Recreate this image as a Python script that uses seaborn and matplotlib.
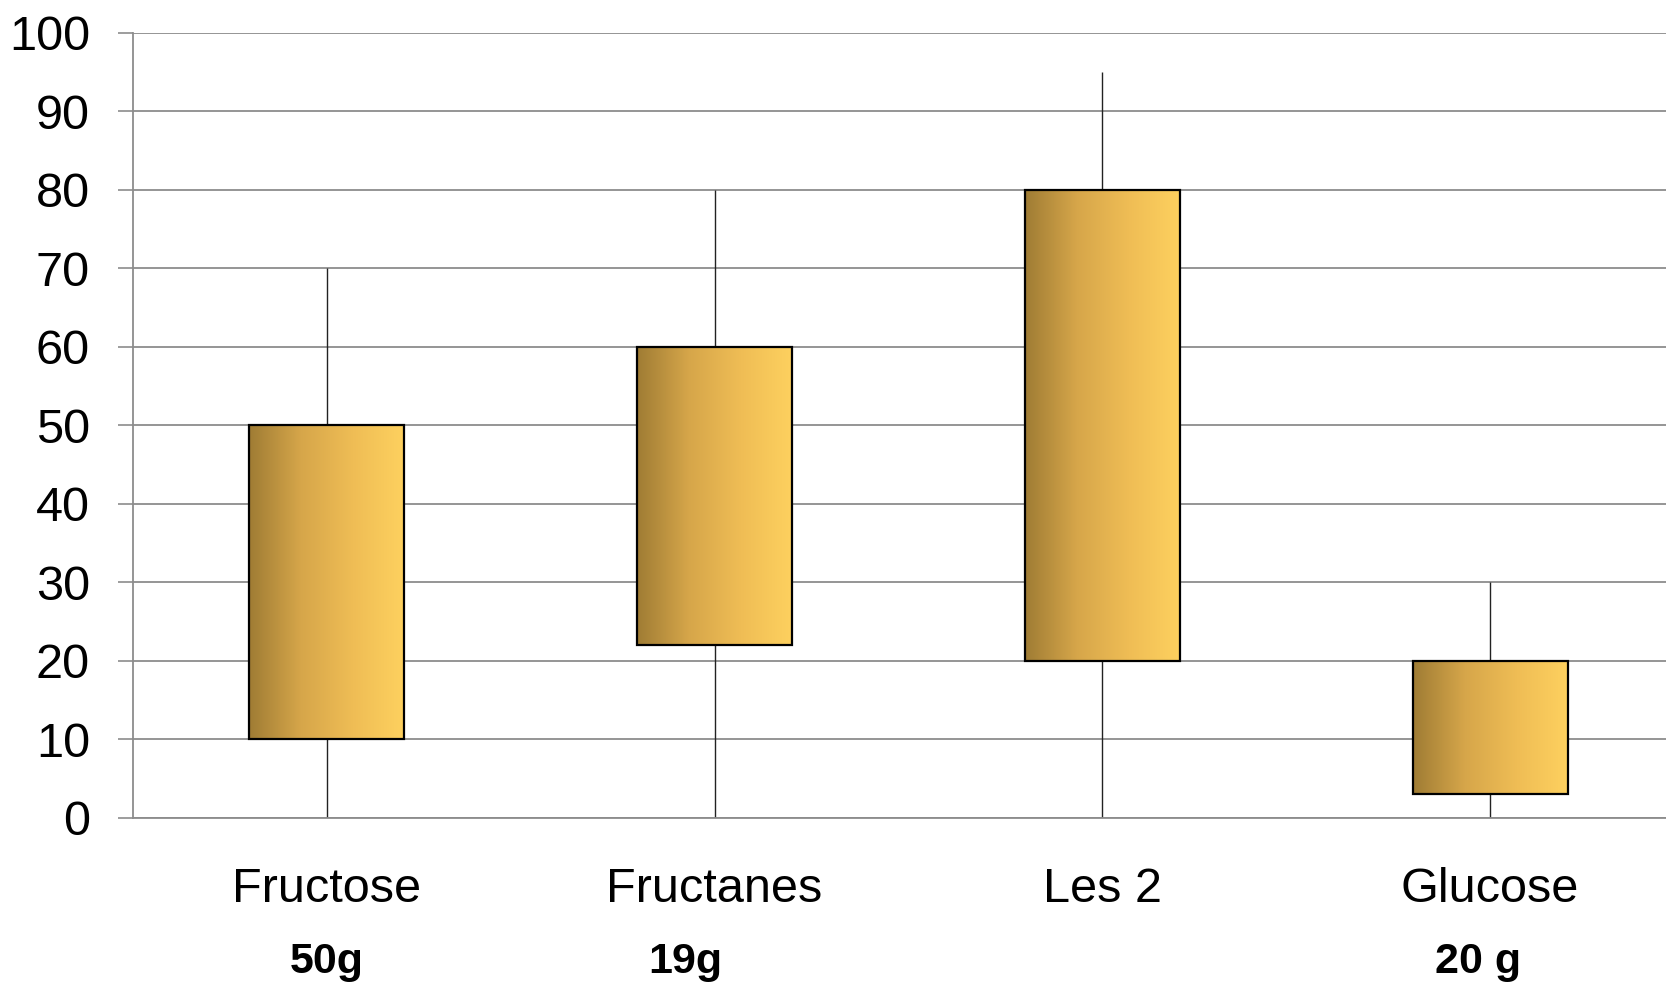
import numpy as np
import pandas as pd
import matplotlib
matplotlib.use("Agg")
import matplotlib.pyplot as plt
from matplotlib.colors import LinearSegmentedColormap
import seaborn as sns

# Data: range (whiskers) and interquartile box for each sugar
categories = ["Fructose", "Fructanes", "Les 2", "Glucose"]
doses = ["50g", "19g", "", "20 g"]
box_low = [10, 22, 20, 3]
box_high = [50, 60, 80, 20]
whisk_low = [0, 0, 0, 0]
whisk_high = [70, 80, 95, 30]
y_ticks = list(range(0, 101, 10))

sns.set_theme(style="white")
plt.rcParams["font.family"] = ["Liberation Sans", "DejaVu Sans"]
plt.rcParams["text.color"] = "black"
plt.rcParams["xtick.labelcolor"] = "black"
plt.rcParams["ytick.labelcolor"] = "black"

fig = plt.figure(figsize=(16.66, 9.84), dpi=100)
ax = fig.add_axes([0.0798, 0.1687, 0.931, 0.7978])

df = pd.DataFrame({
    "cat": categories,
    "height": np.array(box_high) - np.array(box_low),
})

# Whiskers drawn first so the boxes sit on top
ax.vlines(np.arange(len(categories)), whisk_low, whisk_high,
          color="#222222", lw=1.0, zorder=2)

sns.barplot(data=df, x="cat", y="height", bottom=box_low, width=0.4,
            color="#e0b050", edgecolor="black", linewidth=1.6,
            ax=ax, zorder=3)

# Horizontal gradient fill for each box
grad_cmap = LinearSegmentedColormap.from_list(
    "gold", ["#9f7c34", "#d6a64a", "#efbd55", "#fed15f"])
grad = np.linspace(0, 1, 256).reshape(1, -1)
for patch in ax.patches:
    x0, y0 = patch.get_x(), patch.get_y()
    w, h = patch.get_width(), patch.get_height()
    im = ax.imshow(grad, cmap=grad_cmap, aspect="auto",
                   extent=[x0, x0 + w, y0, y0 + h], zorder=3.5,
                   interpolation="bilinear")
    im.set_clip_path(patch)
    patch.set_facecolor("none")
    patch.set_zorder(4)

ax.set_xlim(-0.5, len(categories) - 0.5)
ax.set_ylim(0, 100)
ax.set_yticks(y_ticks)
ax.set_yticklabels([str(v) for v in y_ticks], fontsize=35)
ax.yaxis.grid(True, color="#8c8c8c", lw=1.3, zorder=0)
ax.set_axisbelow(True)

ax.set_xticks(range(len(categories)))
ax.set_xticklabels(categories, fontsize=35)
ax.set_xticks(np.arange(-0.5, len(categories) - 0.5, 1.0), minor=True)
ax.tick_params(axis="x", which="major", length=0, pad=35)
ax.tick_params(axis="x", which="minor", length=11, width=1.2,
               color="#8c8c8c", direction="out")
ax.tick_params(axis="y", which="major", length=11, width=1.2,
               color="#8c8c8c", direction="out", pad=20, left=True)
ax.set_xlabel("")
ax.set_ylabel("")

for side in ["top", "right"]:
    ax.spines[side].set_visible(False)
for side in ["left", "bottom"]:
    ax.spines[side].set_color("#8c8c8c")
    ax.spines[side].set_linewidth(1.3)

# Dose labels under the category names
dose_offsets = [0.0, -0.075, 0.0, -0.03]
for i, (d, off) in enumerate(zip(doses, dose_offsets)):
    if d:
        ax.text(i + off, -0.184, d, transform=ax.get_xaxis_transform(),
                ha="center", va="center", fontsize=31, fontweight="bold",
                color="black")

fig.savefig("out.png", dpi=100)
